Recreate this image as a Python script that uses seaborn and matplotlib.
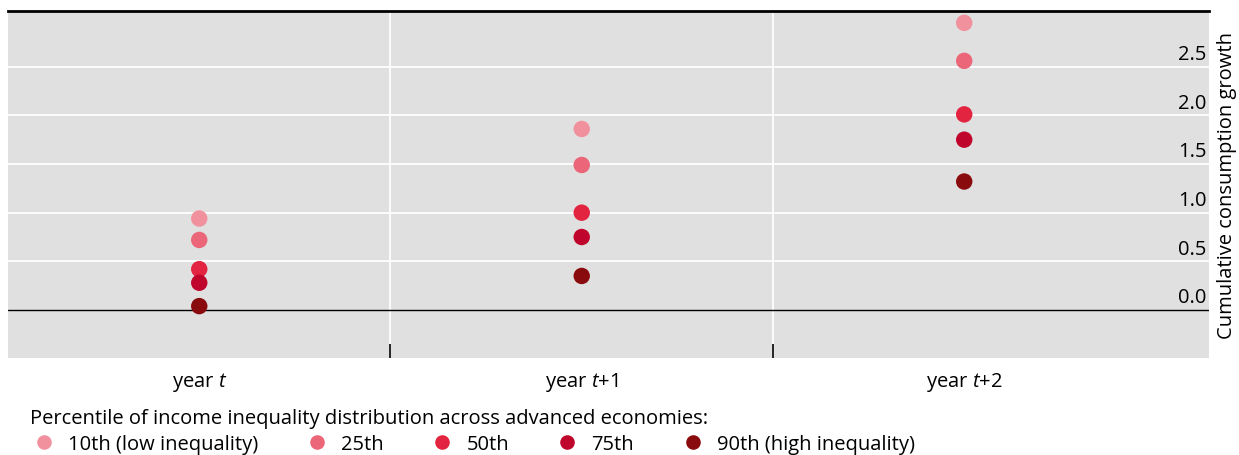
import matplotlib
matplotlib.use("Agg")
import matplotlib.pyplot as plt
import matplotlib.transforms as mtransforms
from matplotlib.lines import Line2D
import seaborn as sns
import pandas as pd

# ---- data ----
periods = ["year $t$", "year $t$+1", "year $t$+2"]
percentiles = ["10th (low inequality)", "25th", "50th", "75th", "90th (high inequality)"]
p10 = [0.94, 1.86, 2.95]
p25 = [0.72, 1.49, 2.56]
p50 = [0.42, 1.00, 2.01]
p75 = [0.28, 0.75, 1.75]
p90 = [0.04, 0.35, 1.32]
colors = ["#f2919e", "#ea6678", "#e32440", "#bf052c", "#8a0b0e"]
yticks = [0.0, 0.5, 1.0, 1.5, 2.0, 2.5]
ylabel = "Cumulative consumption growth"
legend_title = "Percentile of income inequality distribution across advanced economies:"

series = [p10, p25, p50, p75, p90]
rows = []
for name, vals in zip(percentiles, series):
    for per, v in zip(periods, vals):
        rows.append({"period": per, "percentile": name, "value": v})
df = pd.DataFrame(rows)

sns.set_style("white")
plt.rcParams["font.family"] = ["Open Sans", "DejaVu Sans"]
plt.rcParams["mathtext.fontset"] = "custom"
plt.rcParams["mathtext.rm"] = "Open Sans"
plt.rcParams["mathtext.it"] = "Open Sans:italic"
plt.rcParams["text.color"] = "black"
FS = 14.5

fig = plt.figure(figsize=(12.39, 4.56), dpi=100)
ax = fig.add_axes([8/1239, 1-359/456, (1209-8)/1239, (359-12)/456])
ax.set_facecolor("#e0e0e0")
ax.set_axisbelow(False)

sns.scatterplot(data=df, x="period", y="value", hue="percentile",
                hue_order=percentiles, palette=colors, s=140, linewidth=0,
                ax=ax, legend=False, zorder=5)

ax.set_xlim(-0.5, 2.64)
ax.set_ylim(-0.493, 3.072)

# grid
ax.set_yticks(yticks)
ax.set_xticks([0, 1, 2])
ax.set_xticklabels(periods)
ax.set_xticks([0.5, 1.5], minor=True)
ax.grid(False)
for y in yticks[1:]:
    ax.axhline(y, color="white", lw=1.3, zorder=1)
for x in [0.5, 1.5]:
    ax.axvline(x, color="white", lw=1.3, zorder=1)
ax.axhline(0, color="black", lw=1.0, zorder=3)

for s in ["left", "right", "bottom"]:
    ax.spines[s].set_visible(False)
ax.spines["top"].set_color("black")
ax.spines["top"].set_linewidth(2)

ax.tick_params(axis="x", which="major", bottom=True, length=0, pad=9, labelsize=FS, colors="black")
ax.tick_params(axis="x", which="minor", bottom=True, length=10, width=1.2, direction="in", color="black")

ax.yaxis.tick_right()
ax.tick_params(axis="y", length=0, pad=-2, labelsize=FS, colors="black")
ax.set_yticklabels([f"{v:.1f}" for v in yticks])
off = mtransforms.ScaledTranslation(0, 2/72, fig.dpi_scale_trans)
for lab in ax.get_yticklabels():
    lab.set_ha("right")
    lab.set_va("bottom")
    lab.set_transform(lab.get_transform() + off)

ax.yaxis.set_label_position("right")
ax.set_ylabel(ylabel, fontsize=FS, labelpad=6, color="black")
ax.set_xlabel("")

handles = [Line2D([], [], marker="o", linestyle="", markersize=10.5, color=c,
                  markeredgewidth=0) for c in colors]
leg = fig.legend(handles, percentiles, loc="upper left", bbox_to_anchor=(30/1239, 1-409/456),
                 ncol=5, frameon=False, title=legend_title, alignment="left",
                 fontsize=FS, title_fontsize=FS, handletextpad=0.5, columnspacing=2.2,
                 handlelength=1.4, borderpad=0, borderaxespad=0, labelspacing=0.3)
leg.get_title().set_color("black")
for t in leg.get_texts():
    t.set_color("black")

fig.savefig("out.png", dpi=100)
